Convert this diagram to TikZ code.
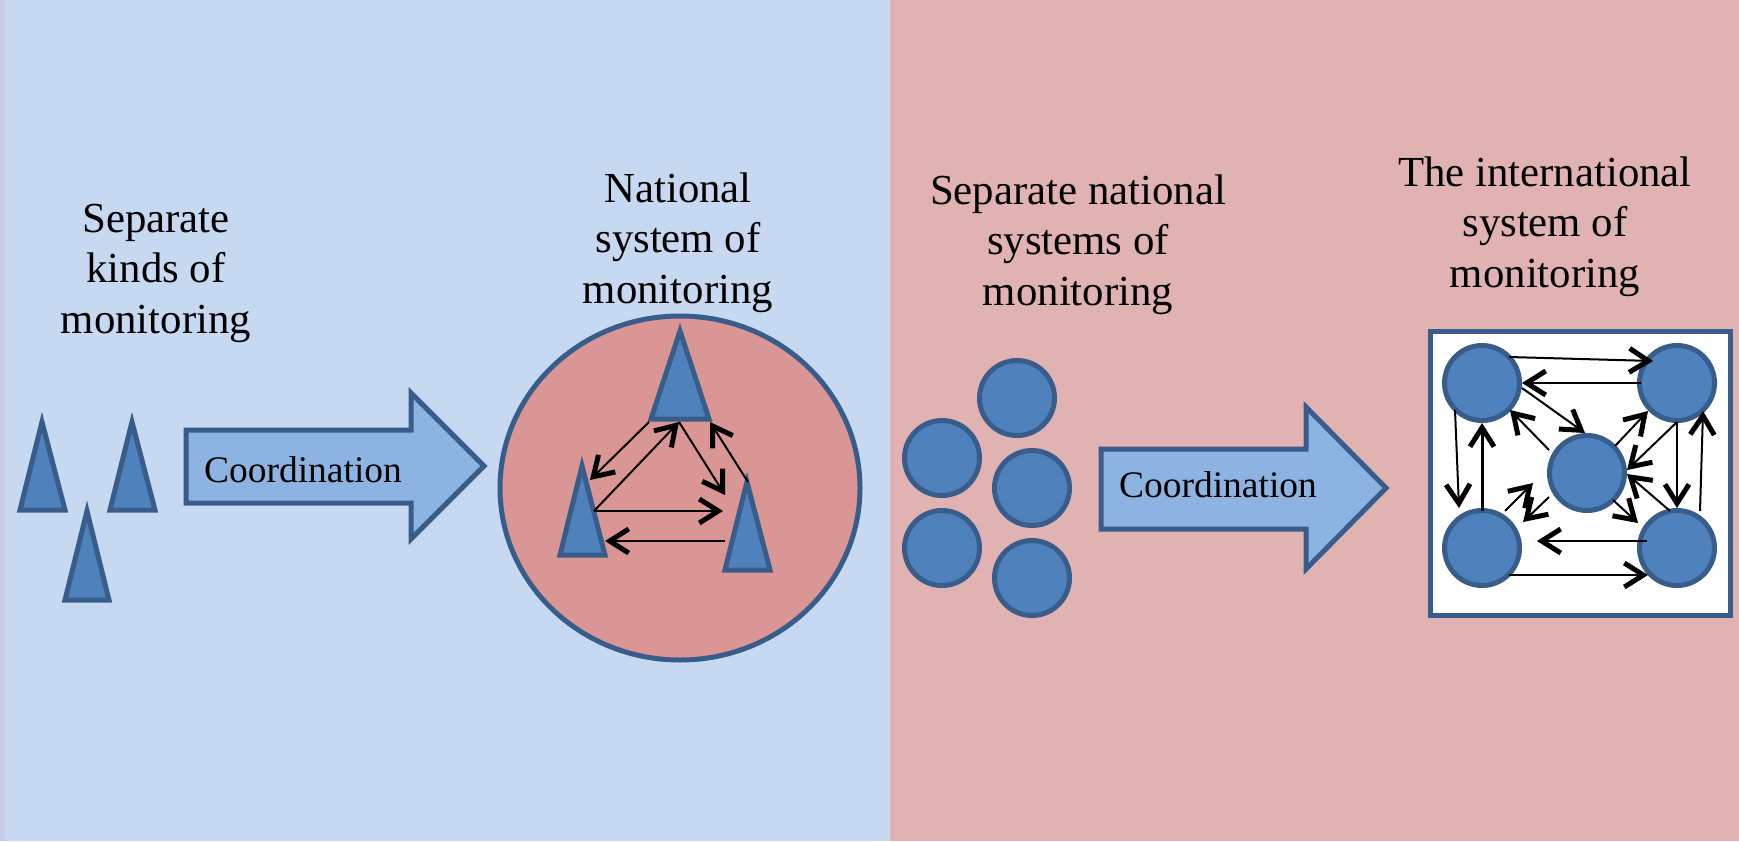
\documentclass[tikz,border=0pt]{standalone}
\usepackage{fontspec}
\setmainfont{Liberation Serif}
\usetikzlibrary{arrows.meta,shapes.geometric}
\definecolor{bgblue}{HTML}{C6D9F0}
\definecolor{bgpink}{HTML}{E1B2B2}
\definecolor{edge}{HTML}{385D8A}
\definecolor{fillblue}{HTML}{4F81BD}
\definecolor{arrowfill}{HTML}{8DB3E2}
\definecolor{natfill}{HTML}{D99694}
\definecolor{strip}{HTML}{C9CBE6}
\tikzset{
 tri/.style={draw=edge, fill=fillblue, line width=5pt, line join=miter},
 circ/.style={circle, draw=edge, fill=fillblue, line width=5pt, minimum size=75pt, inner sep=0pt, outer sep=0pt},
 bigarrow/.style={draw=edge, fill=arrowfill, line width=5pt, line join=miter},
 head/.style={font=\fontsize{42.8}{50.5}\selectfont, align=center, inner sep=0pt},
 coordtext/.style={font=\fontsize{37.5}{44}\selectfont, inner sep=0pt},
 link/.style={line width=2pt, -{Straight Barb[length=19pt, width=24pt, line width=5pt]}},
 linkthick/.style={line width=3pt, -{Straight Barb[length=19pt, width=24pt, line width=5pt]}},
}
\begin{document}
\begin{tikzpicture}[x=1pt,y=-1pt]
\useasboundingbox (0,0) rectangle (1739,841);
\fill[bgblue] (0,0) rectangle (890,841);
\fill[bgpink] (890,0) rectangle (1739,841);
\fill[strip] (0,0) rectangle (5,841);

% headings (anchor = baseline of last line)
\node[head, anchor=base] (h1) at (156,333) {Separate\\kinds of\\monitoring};
\node[head, anchor=base] (h2) at (678,303) {National\\system of\\monitoring};
\node[head, anchor=base] (h3) at (1078,305) {Separate national\\systems of\\monitoring};
\node[head, anchor=base] (h4) at (1545,287) {The international\\system of\\monitoring};

% separate kinds of monitoring
\draw[tri] (42,422) -- (65,510) -- (20,510) -- cycle;
\draw[tri] (132,422) -- (155,510) -- (110,510) -- cycle;
\draw[tri] (87,511) -- (109,600) -- (65,600) -- cycle;

% coordination arrow 1
\draw[bigarrow] (186,430) -- (411,430) -- (411,393) -- (484,466) -- (411,539) -- (411,503) -- (186,503) -- cycle;
\node[coordtext, anchor=base] (c1) at (303,482) {Coordination};

% national system
\node[ellipse, draw=edge, fill=natfill, line width=5pt, minimum width=360pt, minimum height=344pt, inner sep=0pt] (nat) at (680,488) {};
\draw[tri] (680,331) -- (709,419) -- (651,419) -- cycle;
\draw[tri] (582,466) -- (605,555) -- (560,555) -- cycle;
\draw[tri] (747,482) -- (770,570) -- (725,570) -- cycle;
\coordinate (ta) at (649,422);
\coordinate (tb) at (679,422);
\coordinate (tc) at (710,422);
\coordinate (la) at (590,480);
\coordinate (lb) at (594,511);
\coordinate (lc) at (605,541);
\coordinate (ra) at (748,482);
\coordinate (rb) at (725,495);
\coordinate (rc) at (723,511);
\coordinate (rd) at (725,541);
\draw[link] (ta) -- (la);
\draw[link] (lb) -- (tb);
\draw[link] (tb) -- (rb);
\draw[link] (ra) -- (tc);
\draw[link] (lb) -- (rc);
\draw[link] (rd) -- (lc);

% separate national systems
\node[circ] (s1) at (1017,398) {};
\node[circ] (s2) at (942,458) {};
\node[circ] (s3) at (1032,488) {};
\node[circ] (s4) at (942,548) {};
\node[circ] (s5) at (1032,578) {};

% coordination arrow 2
\draw[bigarrow] (1101,449) -- (1306,449) -- (1306,407) -- (1386,488) -- (1306,569) -- (1306,529) -- (1101,529) -- cycle;
\node[coordtext, anchor=base] (c2) at (1218,497) {Coordination};

% international system
\node[draw=edge, fill=white, line width=5pt, minimum width=300pt, minimum height=284pt, inner sep=0pt] (box) at (1580,473) {};
\node[circ] (tl) at (1482,383) {};
\node[circ] (tr) at (1677,383) {};
\node[circ] (cc) at (1587,473) {};
\node[circ] (bl) at (1482,548) {};
\node[circ] (br) at (1677,548) {};
\draw[link] ([shift={(27,-26)}]tl.center) -- ([shift={(-24,-22)}]tr.center);
\draw[link] ([shift={(-36,0)}]tr.center) -- ([shift={(40,0)}]tl.center);
\draw[link] ([shift={(40,5)}]tl.center) -- ([shift={(-2,-40)}]cc.center);
\draw[link] ([shift={(-38,-23)}]cc.center) -- ([shift={(28,27)}]tl.center);
\draw[link] ([shift={(28,-27)}]cc.center) -- ([shift={(-29,28)}]tr.center);
\draw[link] ([shift={(0,39)}]tr.center) -- ([shift={(40,-3)}]cc.center);
\draw[link] ([shift={(-7,-37)}]br.center) -- ([shift={(40,1)}]cc.center);
\draw[link] ([shift={(26,27)}]cc.center) -- ([shift={(-39,-25)}]br.center);
\draw[link] ([shift={(0,39)}]tr.center) -- ([shift={(0,-40)}]br.center);
\draw[link] ([shift={(23,-37)}]br.center) -- ([shift={(26,28)}]tr.center);
\draw[link] ([shift={(-27,27)}]tl.center) -- ([shift={(-23,-40)}]bl.center);
\draw[linkthick] ([shift={(0,-37)}]bl.center) -- ([shift={(0,40)}]tl.center);
\draw[link] ([shift={(-30,-7)}]br.center) -- ([shift={(55,-7)}]bl.center);
\draw[link] ([shift={(27,27)}]bl.center) -- ([shift={(-29,27)}]br.center);
\draw[link] ([shift={(23,-37)}]bl.center) -- ([shift={(-54,10)}]cc.center);
\draw[link] ([shift={(-38,24)}]cc.center) -- ([shift={(41,-26)}]bl.center);
\end{tikzpicture}
\end{document}
